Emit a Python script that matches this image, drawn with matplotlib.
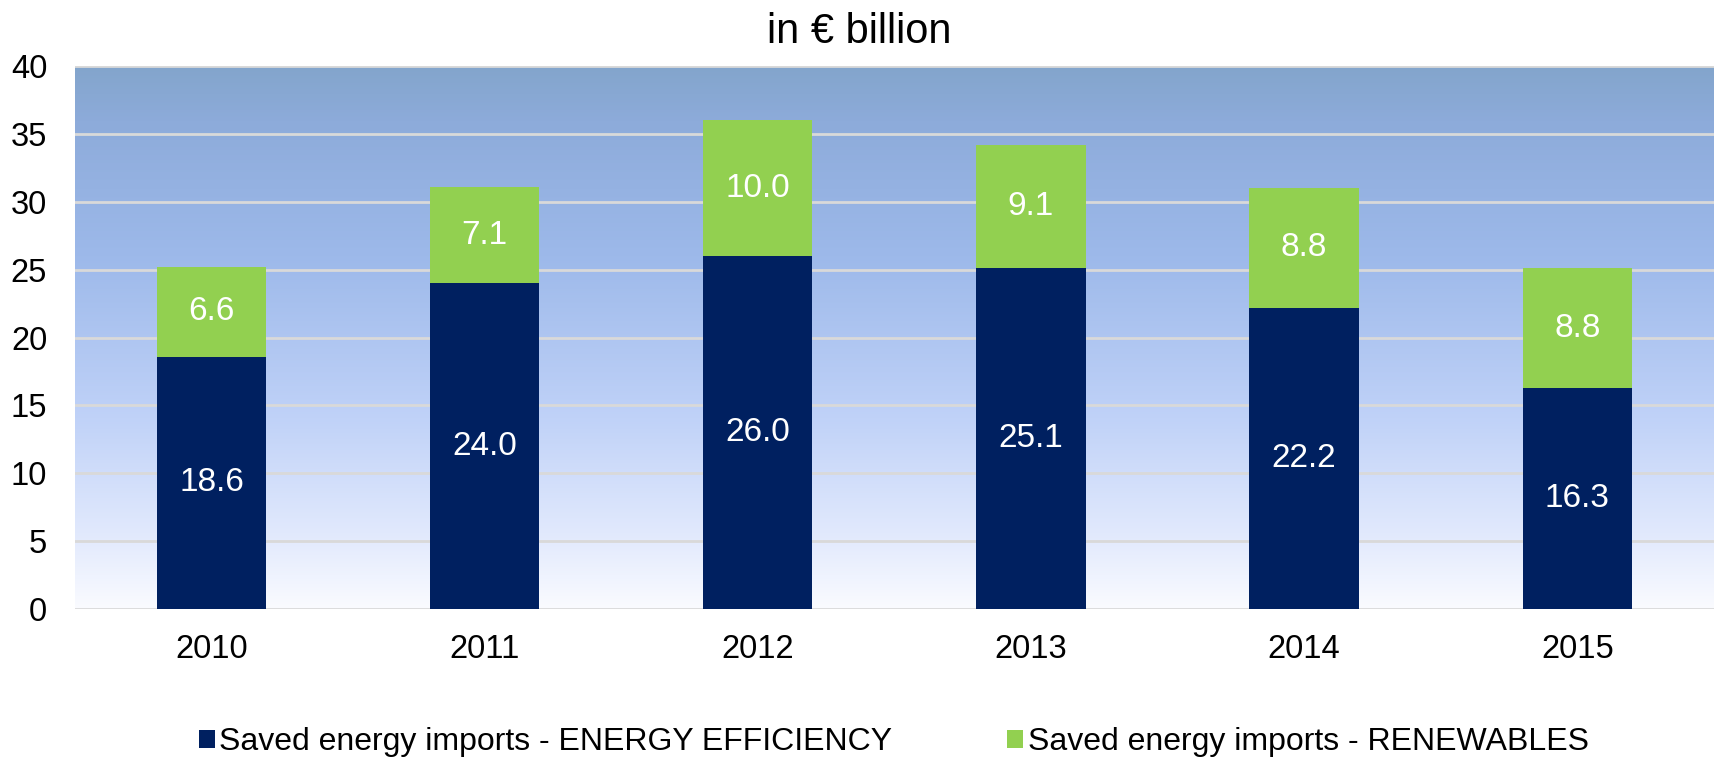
import numpy as np
import matplotlib
matplotlib.use("Agg")
import matplotlib.pyplot as plt
from matplotlib.colors import LinearSegmentedColormap

plt.rcParams['font.family'] = ['Liberation Sans', 'DejaVu Sans']

anos = ["2010", "2011", "2012", "2013", "2014", "2015"]
eficiencia = [18.6, 24.0, 26.0, 25.1, 22.2, 16.3]
renovaveis = [6.6, 7.1, 10.0, 9.1, 8.8, 8.8]
nomes = ["Saved energy imports - ENERGY EFFICIENCY", "Saved energy imports - RENEWABLES"]

cor_azul = "#002060"
cor_verde = "#92D050"

fig = plt.figure(figsize=(17.19, 7.59), dpi=100)
ax = fig.add_axes([0.0436, 0.1976, 0.9534, 0.7154])

x = np.arange(len(anos))
ax.set_xlim(-0.5, len(anos) - 0.5)
ax.set_ylim(0, 40)

# fundo em gradiente (de baixo branco para cima azul)
cmap = LinearSegmentedColormap.from_list("fundo", [
    (0.0, "#FAFBFF"), (0.12, "#E4EBFD"), (0.35, "#C0D2F8"),
    (0.65, "#9DB9EA"), (0.9, "#8DABDA"), (1.0, "#83A5CC")])
grad = np.linspace(0, 1, 256).reshape(-1, 1)
ax.imshow(grad, aspect="auto", cmap=cmap, origin="lower",
          extent=[-0.5, len(anos) - 0.5, 0, 40], zorder=0)

ax.set_yticks(range(0, 41, 5))
for yv in range(0, 41, 5):
    ax.axhline(yv, color="#D9D9D9", linewidth=2, zorder=1)

b1 = ax.bar(x, eficiencia, width=0.4, color=cor_azul, label=nomes[0], zorder=2)
b2 = ax.bar(x, renovaveis, width=0.4, bottom=eficiencia, color=cor_verde, label=nomes[1], zorder=2)

for i in range(len(anos)):
    ax.text(x[i], eficiencia[i] / 2, f"{eficiencia[i]:.1f}", ha="center", va="center",
            color="white", fontsize=24, zorder=3)
    ax.text(x[i], eficiencia[i] + renovaveis[i] / 2, f"{renovaveis[i]:.1f}", ha="center",
            va="center", color="white", fontsize=24, zorder=3)

ax.set_xticks(x)
ax.set_xticklabels(anos)
ax.tick_params(axis="x", length=0, pad=18, labelsize=23.5)
ax.tick_params(axis="y", length=0, pad=20, labelsize=23.5)
for s in ax.spines.values():
    s.set_visible(False)

fig.text(0.5, 0.958, "in € billion", ha="center", va="center", fontsize=30)

fig.legend(handles=[b1, b2], labels=nomes, loc="center", bbox_to_anchor=(0.52, 0.022),
           ncol=2, frameon=False, fontsize=23, handlelength=0.5, handleheight=0.5,
           handletextpad=0.15, columnspacing=3.6)

fig.savefig("out.png", dpi=100)
